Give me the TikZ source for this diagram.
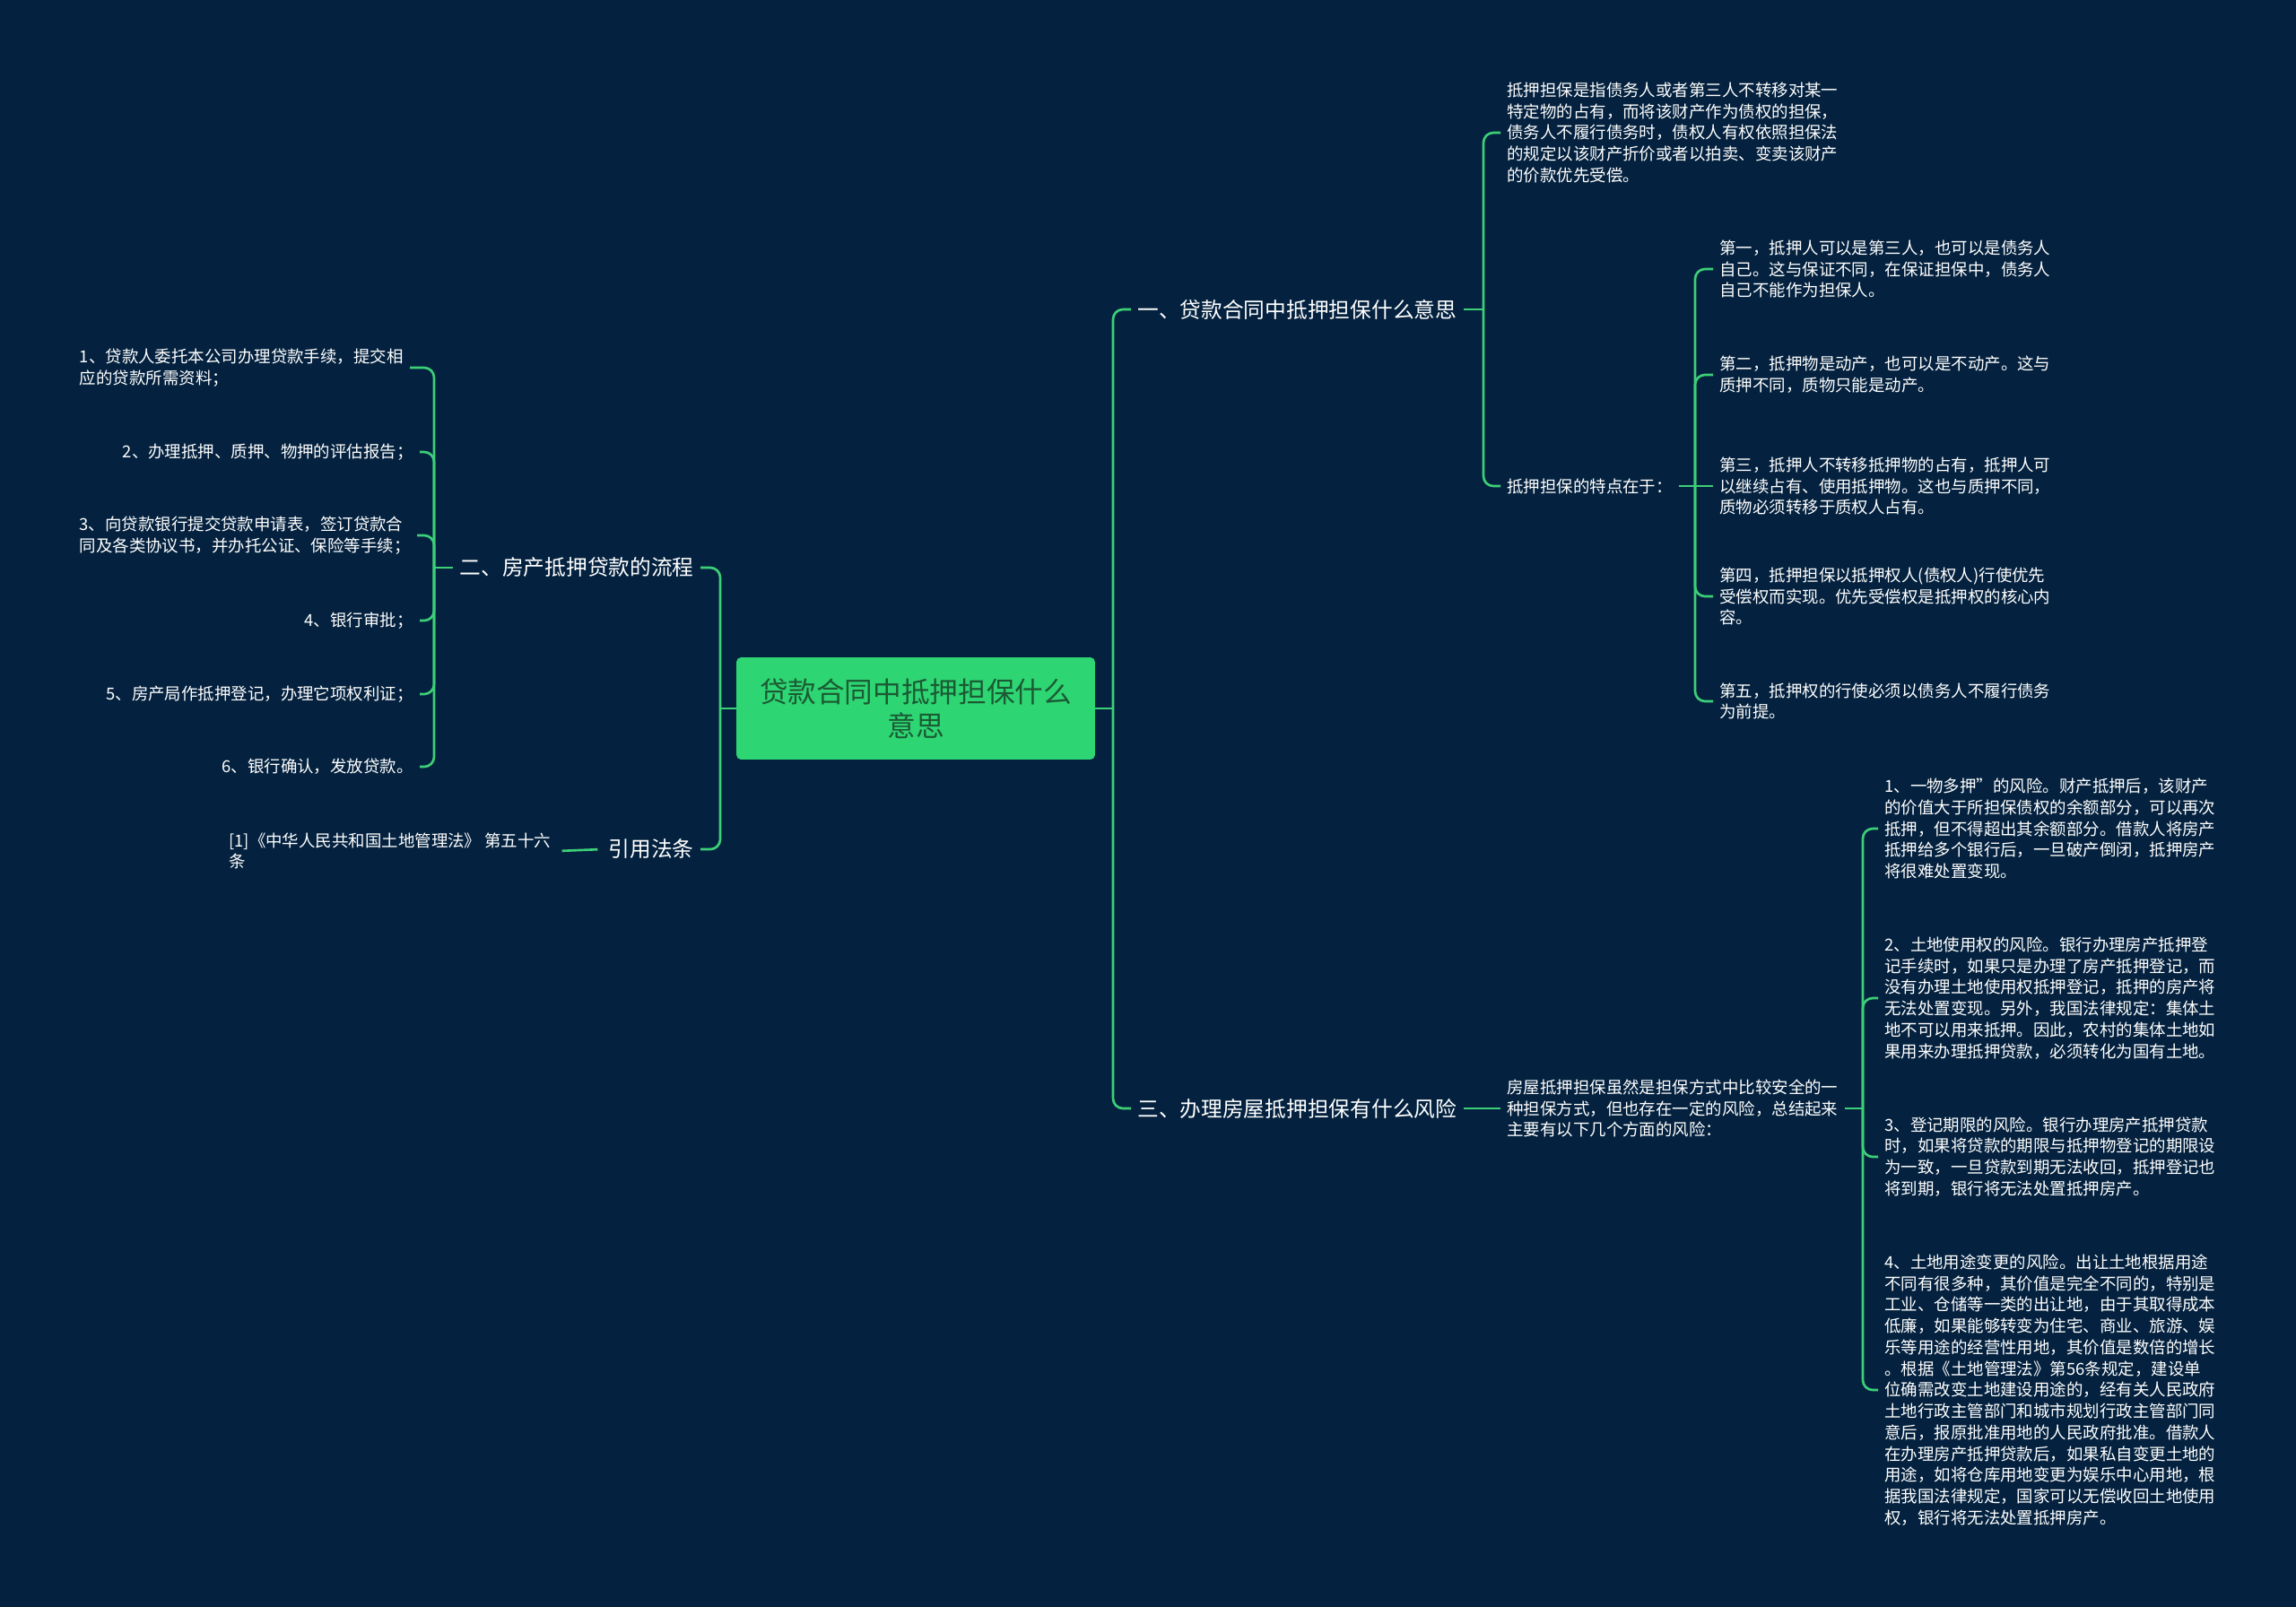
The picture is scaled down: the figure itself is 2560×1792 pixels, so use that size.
\documentclass[tikz,border=0pt]{standalone}
\usepackage{fontspec}
\setmainfont{Noto Sans CJK SC}
\definecolor{bg}{HTML}{04223F}
\definecolor{ln}{HTML}{3DCF78}
\definecolor{cfill}{HTML}{2ED573}
\definecolor{ctext}{HTML}{1B5A33}
\begin{document}
\begin{tikzpicture}[x=0.02cm,y=-0.02cm,
  leaf/.style={text=white,font=\fontsize{10.5}{13.5}\selectfont,align=left,inner xsep=4pt,inner ysep=2pt},
  mainlbl/.style={text=white,font=\fontsize{13.5}{16}\selectfont,inner xsep=4pt,inner ysep=2pt},
  centerbox/.style={fill=cfill,text=ctext,rounded corners=3pt,minimum width=8cm,minimum height=2.28cm,align=center,font=\fontsize{18}{21.8}\selectfont},
  conn/.style={draw=ln,line width=1.5pt,rounded corners=0.22cm},
]
\fill[bg] (0,0) rectangle (2560,1792);
\useasboundingbox (0,0) rectangle (2560,1792);

% centre
\node[centerbox] (c) at (1021,790) {贷款合同中抵押担保什么\\意思};

% right side
\node[mainlbl,anchor=west] (b1) at (1261,345) {一、贷款合同中抵押担保什么意思};
\node[mainlbl,anchor=west] (b3) at (1261,1236) {三、办理房屋抵押担保有什么风险};

\node[leaf,anchor=west] (d) at (1673,148) {抵押担保是指债务人或者第三人不转移对某一\\特定物的占有，而将该财产作为债权的担保，\\债务人不履行债务时，债权人有权依照担保法\\的规定以该财产折价或者以拍卖、变卖该财产\\的价款优先受偿。};
\node[leaf,anchor=west] (t) at (1673,542) {抵押担保的特点在于：};

\node[leaf,anchor=west] (t1) at (1910,300) {第一，抵押人可以是第三人，也可以是债务人\\自己。这与保证不同，在保证担保中，债务人\\自己不能作为担保人。};
\node[leaf,anchor=west] (t2) at (1910,418) {第二，抵押物是动产，也可以是不动产。这与\\质押不同，质物只能是动产。};
\node[leaf,anchor=west] (t3) at (1910,542) {第三，抵押人不转移抵押物的占有，抵押人可\\以继续占有、使用抵押物。这也与质押不同，\\质物必须转移于质权人占有。};
\node[leaf,anchor=west] (t4) at (1910,665) {第四，抵押担保以抵押权人(债权人)行使优先\\受偿权而实现。优先受偿权是抵押权的核心内\\容。};
\node[leaf,anchor=west] (t5) at (1910,782) {第五，抵押权的行使必须以债务人不履行债务\\为前提。};

\node[leaf,anchor=west] (h) at (1673,1236) {房屋抵押担保虽然是担保方式中比较安全的一\\种担保方式，但也存在一定的风险，总结起来\\主要有以下几个方面的风险：};

\node[leaf,anchor=west] (r1) at (2094,924) {1、一物多押”的风险。财产抵押后，该财产\\的价值大于所担保债权的余额部分，可以再次\\抵押，但不得超出其余额部分。借款人将房产\\抵押给多个银行后，一旦破产倒闭，抵押房产\\将很难处置变现。};
\node[leaf,anchor=west] (r2) at (2094,1113) {2、土地使用权的风险。银行办理房产抵押登\\记手续时，如果只是办理了房产抵押登记，而\\没有办理土地使用权抵押登记，抵押的房产将\\无法处置变现。另外，我国法律规定：集体土\\地不可以用来抵押。因此，农村的集体土地如\\果用来办理抵押贷款，必须转化为国有土地。};
\node[leaf,anchor=west] (r3) at (2094,1290) {3、登记期限的风险。银行办理房产抵押贷款\\时，如果将贷款的期限与抵押物登记的期限设\\为一致，一旦贷款到期无法收回，抵押登记也\\将到期，银行将无法处置抵押房产。};
\node[leaf,anchor=west] (r4) at (2094,1550) {4、土地用途变更的风险。出让土地根据用途\\不同有很多种，其价值是完全不同的，特别是\\工业、仓储等一类的出让地，由于其取得成本\\低廉，如果能够转变为住宅、商业、旅游、娱\\乐等用途的经营性用地，其价值是数倍的增长\\。根据《土地管理法》第56条规定，建设单\\位确需改变土地建设用途的，经有关人民政府\\土地行政主管部门和城市规划行政主管部门同\\意后，报原批准用地的人民政府批准。借款人\\在办理房产抵押贷款后，如果私自变更土地的\\用途，如将仓库用地变更为娱乐中心用地，根\\据我国法律规定，国家可以无偿收回土地使用\\权，银行将无法处置抵押房产。};

% left side
\node[mainlbl,anchor=east] (b2) at (781,633) {二、房产抵押贷款的流程};
\node[mainlbl,anchor=east] (b4) at (781,947) {引用法条};

\node[leaf,anchor=east] (l1) at (457,410) {1、贷款人委托本公司办理贷款手续，提交相\\应的贷款所需资料；};
\node[leaf,anchor=east] (l2) at (468,504) {2、办理抵押、质押、物押的评估报告；};
\node[leaf,anchor=east] (l3) at (465,597) {3、向贷款银行提交贷款申请表，签订贷款合\\同及各类协议书，并办托公证、保险等手续；};
\node[leaf,anchor=east] (l4) at (468,692) {4、银行审批；};
\node[leaf,anchor=east] (l5) at (468,774) {5、房产局作抵押登记，办理它项权利证；};
\node[leaf,anchor=east] (l6) at (468,855) {6、银行确认，发放贷款。};

\node[leaf,anchor=west] (law) at (248,949) {[1]《中华人民共和国土地管理法》 第五十六\\条};

% junction coordinates
\coordinate (jR) at (1241,790);
\coordinate (j1) at (1654,345);
\coordinate (jt) at (1890,542);
\coordinate (j3) at (2077,1236);
\coordinate (jL) at (803,790);
\coordinate (j2) at (484,633);

% connectors right
\draw[conn] (c.east) -- (jR);
\draw[conn] (jR) |- (b1.west);
\draw[conn] (jR) |- (b3.west);
\draw[conn] (b1.east) -- (j1);
\draw[conn] (j1) |- (d.west);
\draw[conn] (j1) |- (t.west);
\draw[conn] (t.east) -- (t3.west);
\draw[conn] (jt) |- (t1.west);
\draw[conn] (jt) |- (t2.west);
\draw[conn] (jt) |- (t4.west);
\draw[conn] (jt) |- (t5.west);
\draw[conn] (b3.east) -- (h.west);
\draw[conn] (h.east) -- (j3);
\draw[conn] (j3) |- (r1.west);
\draw[conn] (j3) |- (r2.west);
\draw[conn] (j3) |- (r3.west);
\draw[conn] (j3) |- (r4.west);

% connectors left
\draw[conn] (c.west) -- (jL);
\draw[conn] (jL) |- (b2.east);
\draw[conn] (jL) |- (b4.east);
\draw[conn] (b2.west) -- (j2);
\draw[conn] (j2) |- (l1.east);
\draw[conn] (j2) |- (l2.east);
\draw[conn] (j2) |- (l3.east);
\draw[conn] (j2) |- (l4.east);
\draw[conn] (j2) |- (l5.east);
\draw[conn] (j2) |- (l6.east);
\draw[conn,shorten <=0.1cm,shorten >=0.1cm] (b4.west) -- (law.east);
\end{tikzpicture}
\end{document}
